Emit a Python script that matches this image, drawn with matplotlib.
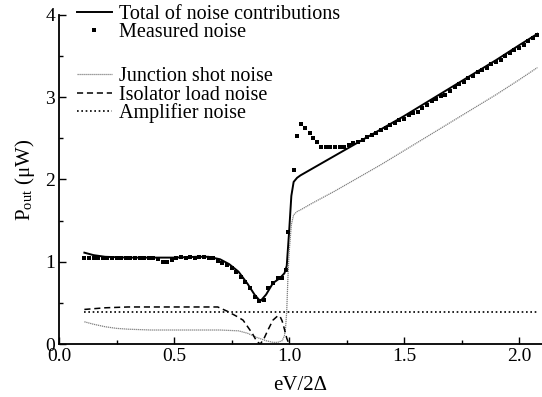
import numpy as np
from matplotlib import pyplot as plt
from matplotlib.ticker import MultipleLocator

# Total of noise contributions (solid)
total_x = [0.11, 0.15, 0.2, 0.3, 0.4, 0.5, 0.6, 0.65, 0.7, 0.74, 0.78, 0.82, 0.85, 0.875,
           0.9, 0.93, 0.96, 0.98, 0.99, 1.0, 1.01, 1.02, 1.035, 1.05, 1.1, 1.2, 1.3, 1.4,
           1.5, 1.6, 1.7, 1.8, 1.9, 2.0, 2.08]
total_y = [1.11, 1.08, 1.06, 1.05, 1.05, 1.05, 1.06, 1.06, 1.03, 0.97, 0.88, 0.73, 0.60, 0.52,
           0.60, 0.74, 0.80, 0.86, 0.95, 1.35, 1.80, 1.97, 2.02, 2.05, 2.13, 2.29, 2.45, 2.61,
           2.77, 2.94, 3.11, 3.28, 3.45, 3.63, 3.77]

# Measured noise (points)
meas_x = [0.11, 0.13, 0.15, 0.17, 0.19, 0.21, 0.23, 0.25, 0.27, 0.29, 0.31, 0.33, 0.35, 0.37,
          0.39, 0.41, 0.43, 0.45, 0.47, 0.49, 0.51, 0.53, 0.55, 0.57, 0.59, 0.61, 0.63, 0.65,
          0.67, 0.69, 0.71, 0.73, 0.75, 0.77, 0.79, 0.81, 0.83, 0.85, 0.87, 0.89, 0.91, 0.93,
          0.95, 0.97, 0.985, 0.995, 1.02, 1.035, 1.05, 1.07, 1.09, 1.105, 1.12, 1.14, 1.16,
          1.18, 1.20, 1.22, 1.24, 1.26, 1.28, 1.30, 1.32, 1.34, 1.36, 1.38, 1.40, 1.42, 1.44,
          1.46, 1.48, 1.50, 1.52, 1.54, 1.56, 1.58, 1.60, 1.62, 1.64, 1.66, 1.68, 1.70, 1.72,
          1.74, 1.76, 1.78, 1.80, 1.82, 1.84, 1.86, 1.88, 1.90, 1.92, 1.94, 1.96, 1.98, 2.00,
          2.02, 2.04, 2.06, 2.08]
meas_y = [1.04, 1.05, 1.05, 1.05, 1.05, 1.05, 1.05, 1.04, 1.05, 1.05, 1.05, 1.05, 1.04, 1.05,
          1.05, 1.05, 1.03, 1.00, 1.00, 1.02, 1.05, 1.06, 1.04, 1.06, 1.05, 1.06, 1.06, 1.05,
          1.05, 1.01, 0.99, 0.96, 0.92, 0.88, 0.82, 0.75, 0.68, 0.57, 0.52, 0.53, 0.68, 0.74,
          0.80, 0.80, 0.90, 1.36, 2.12, 2.53, 2.67, 2.63, 2.56, 2.50, 2.45, 2.40, 2.39,
          2.39, 2.39, 2.40, 2.40, 2.42, 2.44, 2.45, 2.48, 2.51, 2.54, 2.57, 2.60, 2.63, 2.66,
          2.69, 2.72, 2.74, 2.78, 2.81, 2.82, 2.87, 2.91, 2.95, 2.98, 3.02, 3.03, 3.08, 3.12,
          3.16, 3.19, 3.23, 3.26, 3.30, 3.33, 3.36, 3.40, 3.43, 3.45, 3.50, 3.54, 3.57, 3.60,
          3.64, 3.68, 3.72, 3.76]

# Junction shot noise (fine grey dots)
shot_x = [0.11, 0.15, 0.2, 0.25, 0.3, 0.4, 0.5, 0.6, 0.7, 0.78, 0.82, 0.86, 0.9, 0.93, 0.95,
          0.97, 0.98, 0.985, 0.99, 0.995, 1.0, 1.01, 1.02, 1.035, 1.05, 1.1, 1.2, 1.3, 1.4,
          1.5, 1.6, 1.7, 1.8, 1.9, 2.0, 2.08]
shot_y = [0.27, 0.24, 0.21, 0.19, 0.18, 0.17, 0.17, 0.17, 0.17, 0.16, 0.13, 0.08, 0.04, 0.02,
          0.02, 0.04, 0.10, 0.20, 0.40, 0.80, 1.10, 1.45, 1.57, 1.61, 1.63, 1.71, 1.86, 2.02,
          2.18, 2.35, 2.52, 2.69, 2.86, 3.03, 3.21, 3.36]

# Isolator load noise (dashed)
iso_x = [0.11, 0.2, 0.3, 0.4, 0.5, 0.6, 0.69, 0.73, 0.77, 0.80, 0.82, 0.84, 0.86, 0.875,
         0.89, 0.91, 0.93, 0.95, 0.96, 0.97, 0.98, 0.99, 1.0]
iso_y = [0.42, 0.44, 0.45, 0.45, 0.45, 0.45, 0.45, 0.40, 0.34, 0.29, 0.21, 0.13, 0.03, 0.0,
         0.06, 0.18, 0.29, 0.34, 0.34, 0.28, 0.18, 0.07, 0.0]

# Amplifier noise (dotted, constant)
amp_x = [0.11, 2.08]
amp_y = [0.39, 0.39]

plt.rcParams['font.family'] = ['Liberation Serif', 'DejaVu Serif']
plt.rcParams['mathtext.fontset'] = 'stix'

fig = plt.figure(figsize=(5.42, 3.97), dpi=100)
ax = fig.add_axes([0.109, 0.1335, 0.891, 0.829])

l_tot, = ax.plot(total_x, total_y, color='black', lw=1.4)
l_meas, = ax.plot(meas_x, meas_y, ls='none', marker='s', ms=2.5, mew=0, color='black')
l_shot, = ax.plot(shot_x, shot_y, color='0.5', lw=0.9, ls=(0, (1, 0.6)))
l_iso, = ax.plot(iso_x, iso_y, color='black', lw=1.1, ls=(0, (4, 2.5)))
l_amp, = ax.plot(amp_x, amp_y, color='black', lw=1.2, ls=(0, (1, 1.6)))

ax.set_xlim(0, 2.10)
ax.set_ylim(0, 4)
ax.xaxis.set_minor_locator(MultipleLocator(0.25))
ax.yaxis.set_minor_locator(MultipleLocator(0.5))
ax.set_xticks([0, 0.5, 1.0, 1.5, 2.0], ['0.0', '0.5', '1.0', '1.5', '2.0'])
ax.set_yticks([0, 1, 2, 3, 4], ['0', '1', '2', '3', '4'])
ax.tick_params(which='both', direction='in', labelsize=14, width=1.0)
ax.tick_params(which='major', length=5, pad=3)
ax.tick_params(which='minor', length=3)
for s in ['top', 'right']:
    ax.spines[s].set_visible(False)
for s in ['left', 'bottom']:
    ax.spines[s].set_linewidth(1.3)

ax.set_xlabel('eV/2Δ', fontsize=15, labelpad=8)
ax.set_ylabel(r'P$_{\mathregular{out}}$ (μW)', fontsize=15, labelpad=6)

leg_kw = dict(loc='upper left', frameon=False, fontsize=14.5, handlelength=1.75,
              handletextpad=0.35, labelspacing=-0.05, borderaxespad=0)
leg1 = ax.legend([l_tot, l_meas], ['Total of noise contributions', 'Measured noise'],
                 bbox_to_anchor=(0.02, 1.055), **leg_kw)
ax.add_artist(leg1)
ax.legend([l_shot, l_iso, l_amp], ['Junction shot noise', 'Isolator load noise', 'Amplifier noise'],
          bbox_to_anchor=(0.02, 0.865), **leg_kw)

plt.savefig('out.png', dpi=100)
plt.close()
